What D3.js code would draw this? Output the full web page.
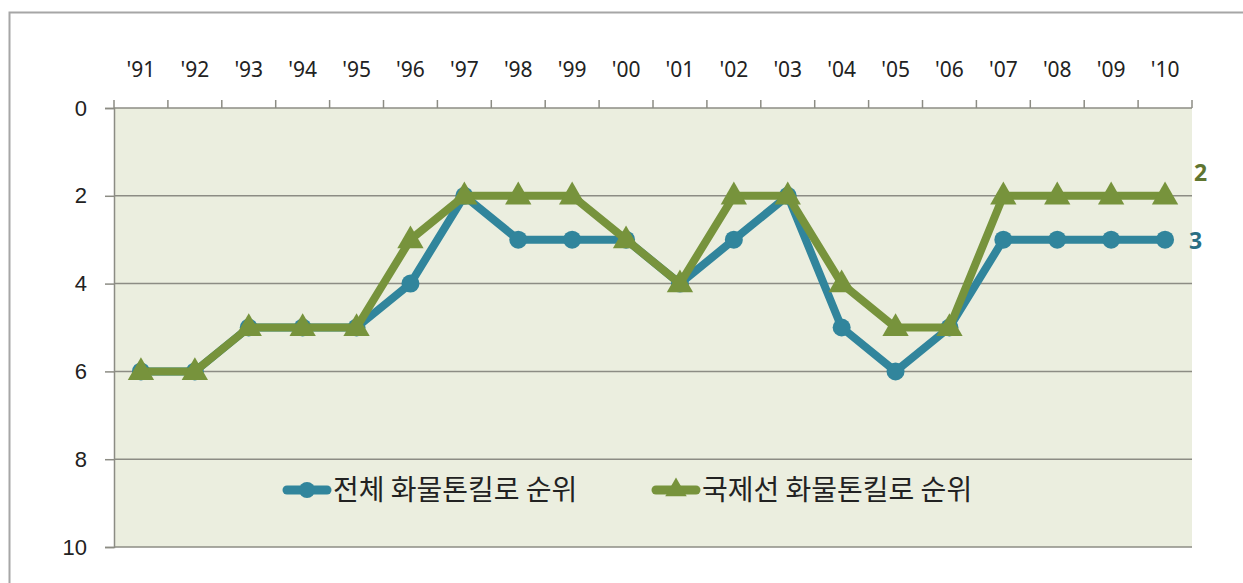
<!DOCTYPE html>
<html>
<head>
<meta charset="utf-8">
<script src="https://cdn.jsdelivr.net/npm/d3@7"></script>
<style>
	body { margin:0; background:#fff; }
	svg { display:block; font-family:"Noto Sans","Noto Sans CJK KR",sans-serif; }
	.kr { font-family:"Noto Sans CJK KR",sans-serif; }
</style>
</head>
<body>
<div id="chart"></div>
<script>
'use strict';

const years = ["'91","'92","'93","'94","'95","'96","'97","'98","'99","'00",
			   "'01","'02","'03","'04","'05","'06","'07","'08","'09","'10"];
const totalRank = [6,6,5,5,5,4,2,3,3,3,4,3,2,5,6,5,3,3,3,3];
const intlRank  = [6,6,5,5,5,3,2,2,2,3,4,2,2,4,5,5,2,2,2,2];
const yTicks = [0,2,4,6,8,10];
const seriesNames = ["전체 화물톤킬로 순위", "국제선 화물톤킬로 순위"];

const W = 1243, H = 583;
const m = { l:114, r:1192, t:108, b:547 };

const svg = d3.select("#chart").append("svg")
			  .attr("width", W).attr("height", H);

// outer frame
svg.append("rect")
   .attr("x", 9.5).attr("y", 12.5)
   .attr("width", W + 20).attr("height", H + 20)
   .attr("fill", "none").attr("stroke", "#a6a6a6").attr("stroke-width", 2);

const x = d3.scaleBand().domain(years).range([m.l, m.r]);
const y = d3.scaleLinear().domain([0, 10]).range([m.t, m.b]);

svg.append("rect")
   .attr("x", m.l).attr("y", m.t)
   .attr("width", m.r - m.l).attr("height", m.b - m.t)
   .attr("fill", "#ebeedf");

// grid
svg.append("g").selectAll("line").data(yTicks.slice(1)).join("line")
   .attr("x1", m.l).attr("x2", m.r)
   .attr("y1", d => y(d)).attr("y2", d => y(d))
   .attr("stroke", "#8c8c84").attr("stroke-width", 1.5);

// left axis
const yAxis = svg.append("g")
				 .attr("transform", `translate(${m.l},0)`)
				 .call(d3.axisLeft(y).tickValues(yTicks).tickSize(9).tickPadding(18));
yAxis.select(".domain").attr("stroke", "#8c8c84").attr("stroke-width", 1.5);
yAxis.selectAll(".tick line").attr("stroke", "#8c8c84").attr("stroke-width", 1.5);
yAxis.selectAll("text").attr("font-size", 22).attr("fill", "#222");

// top axis with ticks between categories
const topAxis = svg.append("g").attr("transform", `translate(0,${m.t})`);
topAxis.append("line")
	   .attr("x1", m.l).attr("x2", m.r)
	   .attr("stroke", "#8c8c84").attr("stroke-width", 1.5);
topAxis.selectAll("line.tk").data(years.concat(["end"])).join("line")
	   .attr("class", "tk")
	   .attr("x1", (d, i) => m.l + i * x.step()).attr("x2", (d, i) => m.l + i * x.step())
	   .attr("y1", -8).attr("y2", 0)
	   .attr("stroke", "#8c8c84").attr("stroke-width", 1.5);
topAxis.selectAll("text").data(years).join("text")
	   .attr("x", d => x(d) + x.bandwidth() / 2)
	   .attr("y", -31)
	   .attr("text-anchor", "middle")
	   .attr("font-size", 21).attr("fill", "#222")
	   .text(d => d);

const cx = d => x(d) + x.bandwidth() / 2;
const line = d3.line().x(d => cx(d.year)).y(d => y(d.v));

const blue = "#31859c", green = "#77933c";
const totalData = years.map((yr, i) => ({ year: yr, v: totalRank[i] }));
const intlData  = years.map((yr, i) => ({ year: yr, v: intlRank[i] }));

const tri = d3.symbol().type(d3.symbolTriangle).size(300);

// blue series
svg.append("path").datum(totalData)
   .attr("d", line).attr("fill", "none")
   .attr("stroke", blue).attr("stroke-width", 8).attr("stroke-linejoin", "round");
svg.append("g").selectAll("circle").data(totalData).join("circle")
   .attr("cx", d => cx(d.year)).attr("cy", d => y(d.v)).attr("r", 9)
   .attr("fill", blue);

// green series
svg.append("path").datum(intlData)
   .attr("d", line).attr("fill", "none")
   .attr("stroke", green).attr("stroke-width", 8).attr("stroke-linejoin", "round");
svg.append("g").selectAll("path").data(intlData).join("path")
   .attr("d", tri)
   .attr("transform", d => `translate(${cx(d.year)},${y(d.v) + 1})`)
   .attr("fill", green);

// end labels
const last = years.length - 1;
svg.append("text")
   .attr("x", m.r + 2).attr("y", y(intlRank[last]) - 15)
   .attr("font-size", 23).attr("font-weight", "bold").attr("fill", "#5f7530")
   .text(intlRank[last]);
svg.append("text")
   .attr("x", cx(years[last]) + 24).attr("y", y(totalRank[last]) + 9)
   .attr("font-size", 23).attr("font-weight", "bold").attr("fill", "#2a6f83")
   .text(totalRank[last]);

// legend
const legend = [
	{ name: seriesNames[0], color: blue, mark: "circle", x: 283 },
	{ name: seriesNames[1], color: green, mark: "tri", x: 652 }
];
const ly = 490;
legend.forEach(l => {
	const g = svg.append("g");
	g.append("line")
	 .attr("x1", l.x + 4).attr("x2", l.x + 44).attr("y1", ly).attr("y2", ly)
	 .attr("stroke", l.color).attr("stroke-width", 9).attr("stroke-linecap", "round");
	if (l.mark == "circle")
		g.append("circle").attr("cx", l.x + 24).attr("cy", ly).attr("r", 8).attr("fill", l.color);
	else
		g.append("path").attr("d", d3.symbol().type(d3.symbolTriangle).size(200))
		 .attr("transform", `translate(${l.x + 24},${ly})`).attr("fill", l.color);
	g.append("text").attr("class", "kr")
	 .attr("x", l.x + 50).attr("y", ly + 10)
	 .attr("font-size", 28).attr("fill", "#222")
	 .text(l.name);
});
</script>
</body>
</html>
